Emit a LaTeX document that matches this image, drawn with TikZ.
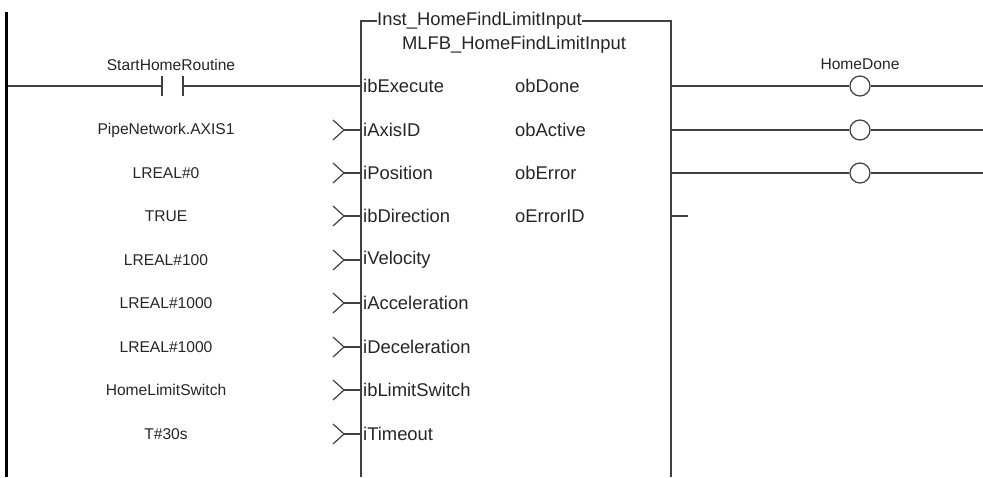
\documentclass[tikz,border=0pt]{standalone}
\usepackage{fontspec}
\setmainfont{Liberation Sans}
\begin{document}
\begin{tikzpicture}[x=1pt,y=-1pt,
  wire/.style={line width=1.2pt,draw=black!75},
  lbl/.style={font=\fontsize{15.6}{17}\selectfont,text=black!85,inner sep=0pt},
  pin/.style={font=\fontsize{18.4}{20}\selectfont,text=black!85,inner sep=0pt,anchor=west},
  coil/.style={circle,draw=black!75,line width=1.2pt,fill=white,minimum size=20pt,inner sep=0pt},
  contactbar/.style={line width=1.4pt,draw=black!75}]
\useasboundingbox (0,0) rectangle (983,477);
% left power rail
\draw[line width=3pt] (6.5,12) -- (6.5,477);
% function block
\coordinate (bTL) at (361,21);
\coordinate (bTR) at (671,21);
\coordinate (bBL) at (361,477);
\coordinate (bBR) at (671,477);
\node[pin,anchor=west] (inst) at (377,21) {Inst\_HomeFindLimitInput};
\node[pin,anchor=center] (type) at (514,45) {MLFB\_HomeFindLimitInput};
\draw[wire] (bBL) -- (bTL) -- (inst.west);
\draw[wire] (inst.east) -- (bTR) -- (bBR);
% inputs
\foreach \nm/\yy in {ibExecute/86,iAxisID/130,iPosition/173,ibDirection/216,iVelocity/260,iAcceleration/303,iDeceleration/347,ibLimitSwitch/390,iTimeout/434}{
  \node[pin] (in-\nm) at (363,\yy) {\nm};
}
% outputs
\foreach \nm/\yy in {obDone/86,obActive/130,obError/173,oErrorID/216}{
  \node[pin] (out-\nm) at (515,\yy) {\nm};
}
% contact rung
\coordinate (rail1) at (8,86);
\coordinate (cL) at (162,86);
\coordinate (cR) at (183,86);
\coordinate (blk1) at (361,86);
\draw[wire] (rail1) -- (cL);
\draw[wire] (cR) -- (blk1);
\draw[contactbar] (162,76) -- (162,96);
\draw[contactbar] (183,76) -- (183,96);
\node[lbl] (start) at (171,65) {StartHomeRoutine};
% input variables
\foreach \txt/\yy [count=\i] in {PipeNetwork.AXIS1/130,LREAL\#0/173,TRUE/216,LREAL\#100/260,LREAL\#1000/303,LREAL\#1000/347,HomeLimitSwitch/390,T\#30s/434}{
  \node[lbl] (var\i) at (166,\yy) {\txt};
  \coordinate (tip\i) at (344,\yy);
  \coordinate (edge\i) at (361,\yy);
  \draw[wire] (333,\yy-10) -- (tip\i) -- (333,\yy+10);
  \draw[wire] (tip\i) -- (edge\i);
}
% output coils
\foreach \yy [count=\i] in {86,130,173}{
  \coordinate (oA\i) at (671,\yy);
  \node[coil] (coil\i) at (860,\yy) {};
  \coordinate (oB\i) at (983,\yy);
  \draw[wire] (oA\i) -- (coil\i.west);
  \draw[wire] (coil\i.east) -- (oB\i);
}
\node[lbl] (hd) at (860,64) {HomeDone};
\coordinate (oA4) at (671,216);
\coordinate (oB4) at (688,216);
\draw[wire] (oA4) -- (oB4);
\end{tikzpicture}
\end{document}
